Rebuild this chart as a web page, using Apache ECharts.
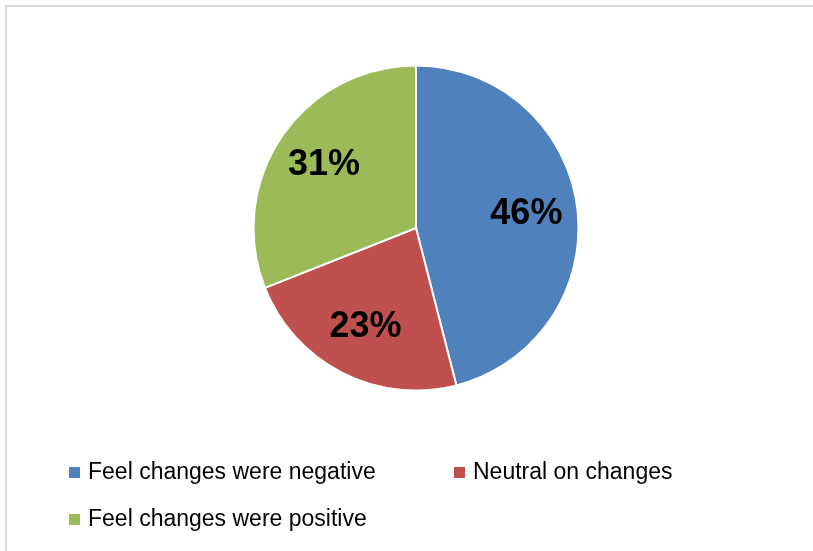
<!DOCTYPE html>
<html>
<head>
    <meta charset="utf-8">
    <title>ECharts</title>
    <script src="https://cdn.jsdelivr.net/npm/echarts@6/dist/echarts.min.js"></script>
    <style>
        html, body { margin: 0; padding: 0; background: #fff; }
    </style>
</head>
<body>
<div id="main" style="width: 813px;height:551px;"></div>
<script type="text/javascript">
    // data
    var categories = ['Feel changes were negative', 'Neutral on changes', 'Feel changes were positive'];
    var shares = [46, 23, 31];
    var colors = ['#4f81bd', '#c0504d', '#9bbb59'];

    var pieData = categories.map(function (name, i) {
        return { name: name, value: shares[i], itemStyle: { color: colors[i] } };
    });
    // same values, only used to place the labels a bit further out
    var labelData = categories.map(function (name, i) {
        return { name: name, value: shares[i] };
    });

    var myChart = echarts.init(document.getElementById('main'));

    myChart.setOption({
        animation: false,
        backgroundColor: '#fff',
        graphic: [{
            type: 'rect',
            shape: { x: 6, y: 6, width: 900, height: 700 },
            style: { fill: null, stroke: '#d9d9d9', lineWidth: 2 },
            silent: true
        }],
        legend: {
            data: categories,
            left: 62,
            top: 444,
            width: 800,
            orient: 'horizontal',
            icon: 'rect',
            itemWidth: 13,
            itemHeight: 13,
            itemGap: 0,
            textStyle: {
                fontFamily: 'Liberation Sans',
                fontSize: 23,
                color: '#000',
                width: 364,
                lineHeight: 47,
                padding: [0, 0, 0, 2]
            }
        },
        series: [
            {
                name: 'main',
                type: 'pie',
                center: [416, 228],
                radius: [0, 162.5],
                startAngle: 90,
                clockwise: true,
                label: { show: false },
                labelLine: { show: false },
                itemStyle: { borderColor: '#fff', borderWidth: 2 },
                emphasis: { disabled: true },
                data: pieData
            },
            {
                name: 'labels',
                type: 'pie',
                center: [416, 228],
                radius: [54, 162.5],
                startAngle: 90,
                clockwise: true,
                silent: true,
                itemStyle: { color: 'transparent' },
                label: {
                    show: true,
                    position: 'inside',
                    formatter: '{c}%',
                    fontFamily: 'Liberation Sans',
                    fontWeight: 'bold',
                    fontSize: 36,
                    color: '#000'
                },
                labelLine: { show: false },
                emphasis: { disabled: true },
                data: labelData
            }
        ]
    });
</script>
</body>
</html>
